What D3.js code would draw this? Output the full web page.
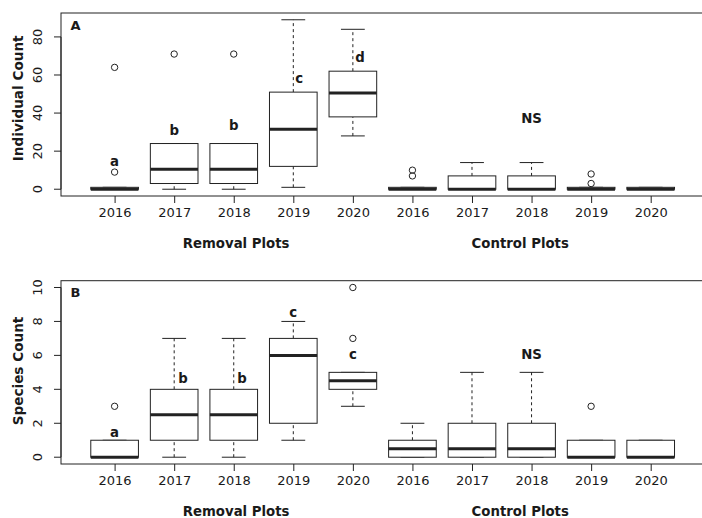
<!DOCTYPE html>
<html>
<head>
<meta charset="utf-8">
<script src="https://cdn.jsdelivr.net/npm/d3@7"></script>
<style>
  body{margin:0;background:#fff}
  text{font-family:"DejaVu Sans",Verdana,sans-serif;fill:#1a1a1a}
</style>
</head>
<body>
<div id="chart"></div>
<script>
// boxplot figure — individual and species counts, removal vs control plots
const years = ['2016','2017','2018','2019','2020','2016','2017','2018','2019','2020'];
const groups = [['Removal Plots',3.04],['Control Plots',7.81]];

// [lower whisker, q1, median, q3, upper whisker]
const countStats = [
  [0,0,0,1,1],[0,3,10.5,24,24],[0,3,10.5,24,24],[1,12,31.5,51,89],[28,38,50.5,62,84],
  [0,0,0,1,1],[0,0,0,7,14],[0,0,0,7,14],[0,0,0,1,1],[0,0,0,1,1]
];
const countOut = [[9,64],[71],[71],[],[],[7,10],[],[],[3,8],[]];
const countLetters = [[1,14.8,'a','middle'],[2,31.1,'b','middle'],[3,33.4,'b','middle'],
  [4.1,58.4,'c','middle'],[5.12,69.6,'d','middle'],[8,37.4,'NS','middle']];

const speciesStats = [
  [0,0,0,1,1],[0,1,2.5,4,7],[0,1,2.5,4,7],[1,2,6,7,8],[3,4,4.5,5,5],
  [0,0,0.5,1,2],[0,0,0.5,2,5],[0,0,0.5,2,5],[0,0,0,1,1],[0,0,0,1,1]
];
const speciesOut = [[3],[],[],[],[7,10],[],[],[],[3],[]];
const speciesLetters = [[1,1.47,'a','middle'],[2.15,4.65,'b','middle'],[3.14,4.65,'b','middle'],
  [4,8.54,'c','middle'],[5,6.08,'c','middle'],[8,6.04,'NS','middle']];

const W=702, H=518, ink='#222';
const svg = d3.select('#chart').append('svg').attr('width',W).attr('height',H);
const x = d3.scaleLinear().domain([0.1,10.9]).range([61,704.3]);

function panel(o){
  const y = d3.scaleLinear().domain(o.ydom).range([o.bottom,o.top]);
  const g = svg.append('g');
  g.append('rect').attr('x',x(0.1)).attr('y',o.top).attr('width',x(10.9)-x(0.1)).attr('height',o.bottom-o.top)
    .attr('fill','none').attr('stroke',ink).attr('stroke-width',1);

  // y axis
  const ya = g.append('g').attr('transform',`translate(${x(0.1)},0)`)
    .call(d3.axisLeft(y).tickValues(o.yticks).tickSize(7).tickSizeOuter(0).tickFormat(d3.format('d')));
  ya.select('.domain').attr('d',`M0,${y(o.yticks[0])}V${y(o.yticks[o.yticks.length-1])}`).attr('stroke',ink);
  ya.selectAll('.tick line').attr('stroke',ink);
  ya.selectAll('.tick text').attr('x',0).attr('dy',0).attr('text-anchor','middle').attr('font-size',13)
    .attr('transform',d=>`translate(-23.3,${y(d)}) rotate(-90)`).attr('y',0).attr('dy','0.35em')
    .style('fill','#1a1a1a');
  ya.selectAll('.tick').attr('transform',d=>`translate(0,${y(d)})`);
  ya.selectAll('.tick text').attr('transform',`translate(-23.3,0) rotate(-90)`);

  // x axis
  const xa = g.append('g').attr('transform',`translate(0,${o.bottom})`)
    .call(d3.axisBottom(x).tickValues(d3.range(1,11)).tickSize(7).tickSizeOuter(0).tickFormat(d=>years[d-1]));
  xa.select('.domain').remove();
  xa.selectAll('.tick line').attr('stroke',ink);
  xa.selectAll('.tick text').attr('font-size',13).attr('y',0).attr('dy',o.tickDy).style('fill','#1a1a1a');

  g.selectAll('.grp').data(groups).join('text').attr('class','grp')
    .attr('x',d=>x(d[1])).attr('y',o.grpY).attr('text-anchor','middle')
    .attr('font-size',13.3).attr('font-weight','bold').text(d=>d[0]);

  g.append('text').attr('transform',`translate(18.7,${o.ylabY}) rotate(-90)`).attr('dy','0.35em')
    .attr('text-anchor','middle').attr('font-size',13.6).attr('font-weight','bold').text(o.ylab);

  g.append('text').attr('x',70.5).attr('y',o.top+16.5).attr('font-size',13).attr('font-weight','bold').text(o.tag);

  const bw = 0.4, cw = 0.2;
  o.stats.forEach((s,i)=>{
    const p=i+1;
    const bx = g.append('g');
    // whiskers
    [[s[0],s[1]],[s[3],s[4]]].forEach(([a,b])=>{
      if(a!==b) bx.append('line').attr('x1',x(p)).attr('x2',x(p)).attr('y1',y(a)).attr('y2',y(b))
        .attr('stroke',ink).attr('stroke-dasharray','3,3');
    });
    [s[0],s[4]].forEach(v=>bx.append('line').attr('x1',x(p-cw)).attr('x2',x(p+cw)).attr('y1',y(v)).attr('y2',y(v)).attr('stroke',ink));
    bx.append('rect').attr('x',x(p-bw)).attr('width',x(p+bw)-x(p-bw)).attr('y',y(s[3])).attr('height',y(s[1])-y(s[3]))
      .attr('fill','#fff').attr('stroke',ink);
    bx.append('line').attr('x1',x(p-bw)).attr('x2',x(p+bw)).attr('y1',y(s[2])).attr('y2',y(s[2]))
      .attr('stroke',ink).attr('stroke-width',3);
    o.out[i].forEach(v=>bx.append('circle').attr('cx',x(p)).attr('cy',y(v)).attr('r',3.2)
      .attr('fill','none').attr('stroke',ink));
  });

  g.selectAll('.lt').data(o.letters).join('text').attr('class','lt')
    .attr('x',d=>x(d[0])).attr('y',d=>y(d[1])).attr('dy','0.36em').attr('text-anchor',d=>d[3])
    .attr('font-size',13.3).attr('font-weight','bold').text(d=>d[2]);
}

panel({top:13,bottom:196,ydom:[-3.56,92.56],yticks:[0,20,40,60,80],stats:countStats,out:countOut,
  letters:countLetters,ylab:'Individual Count',ylabY:98.3,tag:'A',tickDy:'1.6em',grpY:247.7});
panel({top:280.7,bottom:464,ydom:[-0.4,10.4],yticks:[0,2,4,6,8,10],stats:speciesStats,out:speciesOut,
  letters:speciesLetters,ylab:'Species Count',ylabY:371,tag:'B',tickDy:'1.6em',grpY:516.4});
</script>
</body>
</html>
